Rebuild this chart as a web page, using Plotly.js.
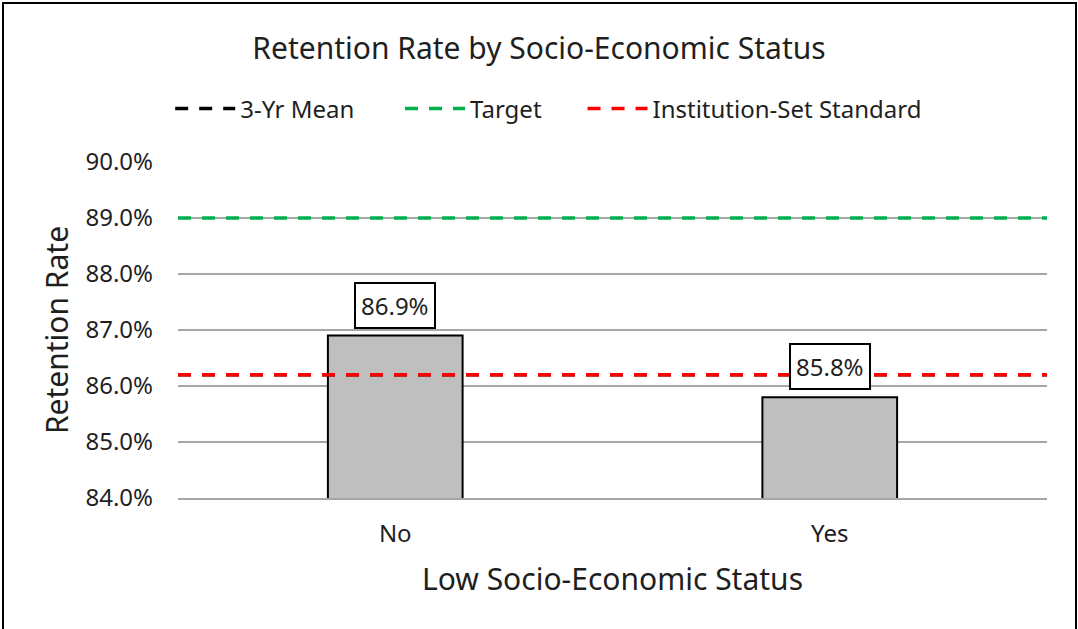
<!DOCTYPE html>
<html>
<head>
<meta charset="utf-8">
<script src="https://cdn.plot.ly/plotly-3.0.1.min.js"></script>
<style>
  html, body { margin: 0; padding: 0; background: #fff; }
  #wrap { position: relative; width: 1078px; height: 629px; overflow: hidden; }
  #chart { width: 1078px; height: 629px; }
  #frame { position: absolute; left: 2px; top: 2px; width: 1071px; height: 700px;
           border: 2px solid #000; pointer-events: none; }
</style>
</head>
<body>
<div id="wrap">
  <div id="chart"></div>
  <div id="frame"></div>
</div>
<script>
// ---- data ----
const categories = ["No", "Yes"];
const retention = [86.9, 85.8];
const threeYrMean = 86.2;
const target = 89.0;
const institutionStandard = 86.2;
const lineNames = ["3-Yr Mean", "Target", "Institution-Set Standard"];
const yTicks = [84, 85, 86, 87, 88, 89, 90];

const FONT = "Noto Sans, Open Sans, sans-serif";
const TXT = "#1f1f1f";

const lineSpan = [0, 1];
function refLine(name, val, color, legendId) {
  return {
    type: "scatter", mode: "lines", name: name,
    x: lineSpan, y: lineSpan.map(() => val),
    xaxis: "x2", yaxis: "y", legend: legendId,
    line: { color: color, width: 3.5, dash: "13px,11px" },
    hoverinfo: "skip"
  };
}

const traces = [
  {
    type: "bar", x: categories, y: retention, name: "Retention",
    showlegend: false, width: 0.31,
    marker: { color: "#bfbfbf", line: { color: "#000", width: 2 } }
  },
  refLine(lineNames[0], threeYrMean, "#000000", "legend"),
  refLine(lineNames[1], target, "#00b050", "legend2"),
  refLine(lineNames[2], institutionStandard, "#ff0000", "legend3")
];

const annotations = categories.map((c, i) => ({
  x: c, y: retention[i], xref: "x", yref: "y",
  text: retention[i].toFixed(1) + "%",
  showarrow: false, yanchor: "bottom", yshift: 7,
  font: { family: FONT, size: 24, color: TXT },
  bgcolor: "#fff", bordercolor: "#000", borderwidth: 2, borderpad: 5
}));

function legendAt(xPaper) {
  return {
    orientation: "h", x: xPaper, xanchor: "left",
    y: 1 + 53 / 336, yanchor: "middle",
    font: { family: FONT, size: 24, color: TXT },
    itemwidth: 60, bgcolor: "rgba(0,0,0,0)", borderwidth: 0
  };
}

const layout = {
  width: 1078, height: 629,
  margin: { l: 178, r: 31, t: 162, b: 131 },
  paper_bgcolor: "#fff", plot_bgcolor: "#fff",
  font: { family: FONT, color: TXT },
  title: {
    text: "Retention Rate by Socio-Economic Status",
    font: { family: FONT, size: 30, color: TXT },
    x: 0.5, xanchor: "center", y: 1 - 48 / 629, yanchor: "middle"
  },
  showlegend: true,
  legend: legendAt(-0.009),
  legend2: legendAt(0.2555),
  legend3: legendAt(0.4655),
  annotations: annotations,
  xaxis: {
    type: "category", categoryarray: categories,
    showgrid: false, zeroline: false,
    showline: true, linecolor: "#a6a6a6", linewidth: 2,
    ticks: "", tickfont: { family: FONT, size: 24, color: TXT },
    ticklabelstandoff: 13,
    title: { text: "Low Socio-Economic Status", font: { family: FONT, size: 30, color: TXT }, standoff: 21 }
  },
  xaxis2: { overlaying: "x", range: [0, 1], visible: false, fixedrange: true },
  yaxis: {
    range: [84, 90], tickvals: yTicks,
    ticktext: yTicks.map(v => v.toFixed(1) + "%"),
    showgrid: true, gridcolor: "#a6a6a6", gridwidth: 2,
    zeroline: false, showline: false, ticks: "",
    tickfont: { family: FONT, size: 24, color: TXT },
    ticklabelstandoff: 24,
    title: { text: "Retention Rate", font: { family: FONT, size: 30, color: TXT }, standoff: 7 }
  }
};

Plotly.newPlot("chart", traces, layout, { staticPlot: true, displayModeBar: false });
</script>
</body>
</html>
